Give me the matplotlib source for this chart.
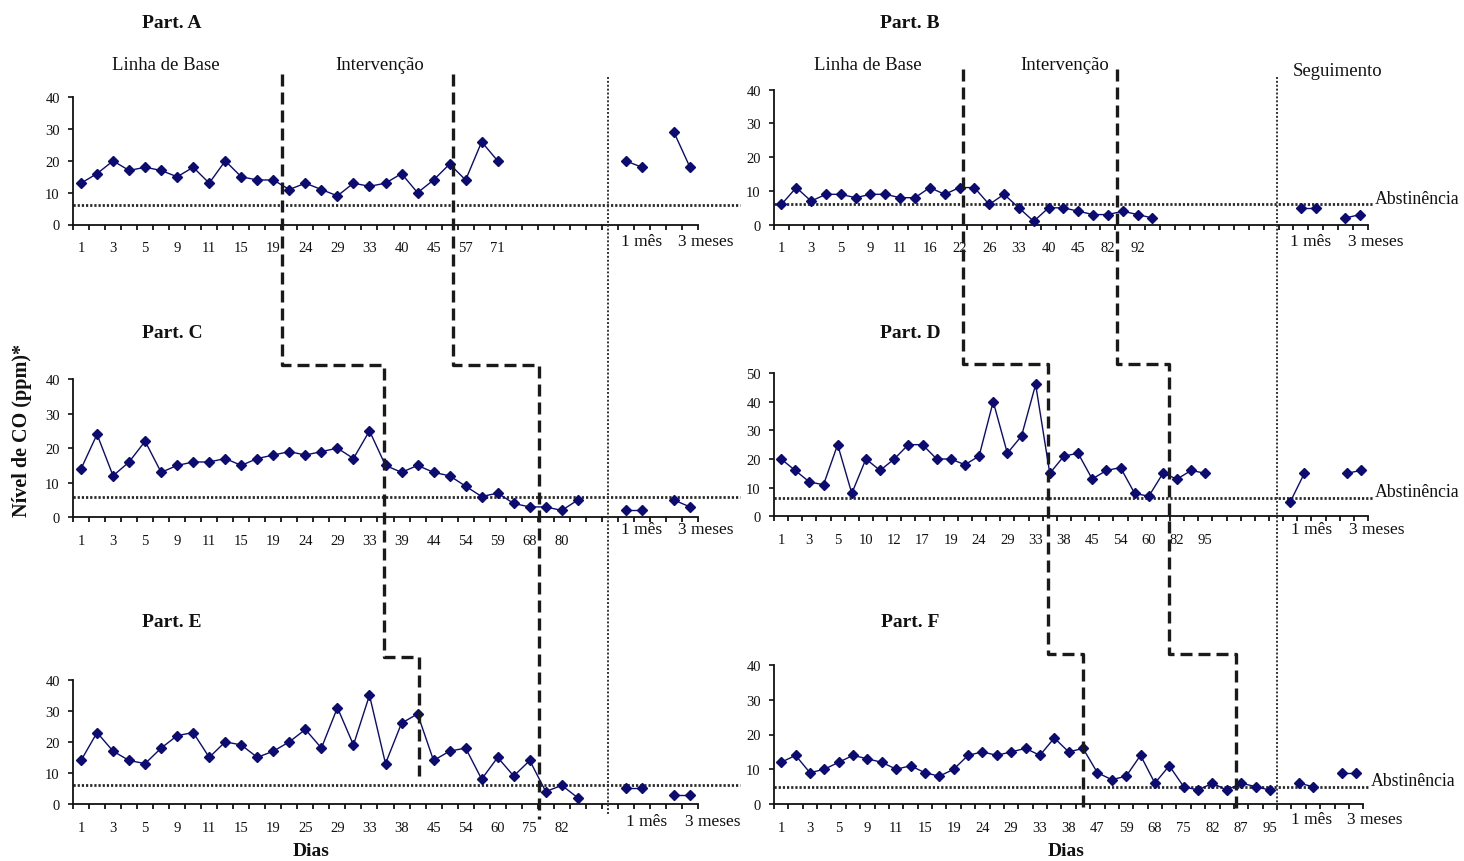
import matplotlib
matplotlib.use('Agg')
import matplotlib.pyplot as plt
from matplotlib.lines import Line2D
from matplotlib.transforms import blended_transform_factory
import numpy as np

plt.rcParams['font.family'] = ['Liberation Serif', 'DejaVu Serif']

# ---------------- data ----------------
days_A = ['1', '3', '5', '9', '11', '15', '19', '24', '29', '33', '40', '45', '57', '71']
co_A = [13, 16, 20, 17, 18, 17, 15, 18, 13, 20, 15, 14, 14, 11, 13, 11, 9, 13, 12, 13,
        16, 10, 14, 19, 14, 26, 20]
follow_A = [20, 18, 29, 18]

days_B = ['1', '3', '5', '9', '11', '16', '22', '26', '33', '40', '45', '82', '92']
co_B = [6, 11, 7, 9, 9, 8, 9, 9, 8, 8, 11, 9, 11, 11, 6, 9, 5, 1, 5, 5, 4, 3, 3, 4, 3, 2]
follow_B = [5, 5, 2, 3]

days_C = ['1', '3', '5', '9', '11', '15', '19', '24', '29', '33', '39', '44', '54', '59', '68', '80']
co_C = [14, 24, 12, 16, 22, 13, 15, 16, 16, 17, 15, 17, 18, 19, 18, 19, 20, 17, 25, 15,
        13, 15, 13, 12, 9, 6, 7, 4, 3, 3, 2, 5]
follow_C = [2, 2, 5, 3]

days_D = ['1', '3', '5', '10', '12', '17', '19', '24', '29', '33', '38', '45', '54', '60', '82', '95']
co_D = [20, 16, 12, 11, 25, 8, 20, 16, 20, 25, 25, 20, 20, 18, 21, 40, 22, 28, 46, 15,
        21, 22, 13, 16, 17, 8, 7, 15, 13, 16, 15]
follow_D = [5, 15, 15, 16]

days_E = ['1', '3', '5', '9', '11', '15', '19', '25', '29', '33', '38', '45', '54', '60', '75', '82']
co_E = [14, 23, 17, 14, 13, 18, 22, 23, 15, 20, 19, 15, 17, 20, 24, 18, 31, 19, 35, 13,
        26, 29, 14, 17, 18, 8, 15, 9, 14, 4, 6, 2]
follow_E = [5, 5, 3, 3]

days_F = ['1', '3', '5', '9', '11', '15', '19', '24', '29', '33', '38', '47', '59', '68', '75',
          '82', '87', '95']
co_F = [12, 14, 9, 10, 12, 14, 13, 12, 10, 11, 9, 8, 10, 14, 15, 14, 15, 16, 14, 19,
        15, 16, 9, 7, 8, 14, 6, 11, 5, 4, 6, 4, 6, 5, 4]
follow_F = [6, 5, 9, 9]

abstinence = {'A': 6, 'B': 6, 'C': 6, 'D': 6.5, 'E': 6, 'F': 5}
follow_labels = ['1 mês', '3 meses']

# ---------------- layout ----------------
W, H = 1464, 862
fig = plt.figure(figsize=(W / 100, H / 100), dpi=100)

NAVY = '#0b0b72'
layout = {
    # name: (n_categories, follow-up slots, pixel box l,t,r,b, ymax, phase x, label x, label dy)
    'A': (39, (34, 35, 37, 38), (73, 98.3, 698, 225.5), 40, (12.52, 23.19), (35.0, 39.0), 16),
    'B': (40, (35, 36, 38, 39), (774, 90.7, 1367.6, 225.7), 40, (12.24, 22.6), (35.67, 40.06), 16),
    'C': (39, (34, 35, 37, 38), (73, 380, 698, 518.3), 40, (18.9, 28.57), (35.0, 39.0), 12),
    'D': (42, (36, 37, 40, 41), (774, 374, 1368, 517.3), 50, (18.9, 27.4), (37.5, 42.1), 13),
    'E': (39, (34, 35, 37, 38), (73, 680.7, 698, 805), 40, (21.08, 28.57), (35.3, 39.4), 17.5),
    'F': (41, (36, 37, 39, 40), (774, 666, 1363.3, 805), 40, (20.97, 31.64), (36.9, 41.3), 15),
}
series = {
    'A': (days_A, co_A, follow_A), 'B': (days_B, co_B, follow_B),
    'C': (days_C, co_C, follow_C), 'D': (days_D, co_D, follow_D),
    'E': (days_E, co_E, follow_E), 'F': (days_F, co_F, follow_F),
}

MS = 5.3
axes = {}
for name, (n, slots, (l, t, r, b), ymax, phases, lab_x, lab_dy) in layout.items():
    days, co, follow = series[name]
    ax = fig.add_axes([l / W, 1 - b / H, (r - l) / W, (b - t) / H])
    axes[name] = ax
    ax.set_xlim(-0.5, n - 0.5)
    ax.set_ylim(0, ymax)
    for s in ['top', 'right']:
        ax.spines[s].set_visible(False)
    for s in ['left', 'bottom']:
        ax.spines[s].set_linewidth(1.3)
        ax.spines[s].set_color('#111111')
    ax.set_yticks(np.arange(0, ymax + 1, 10))
    ax.tick_params(axis='y', direction='out', length=3.5, width=1.2, pad=6,
                   labelsize=10.5, colors='#111111')
    ax.set_xticks(np.arange(-0.5, n, 1.0))
    ax.set_xticklabels([])
    ax.tick_params(axis='x', which='major', direction='out', length=3.5, width=1.2)
    ax.set_xticks(np.arange(0, 2 * len(days), 2), minor=True)
    ax.set_xticklabels(days, minor=True)
    ax.tick_params(axis='x', which='minor', length=0, pad=12, labelsize=10.5, colors='#111111')

    # abstinence threshold
    xmax = 1.067 if name in 'ACE' else 1.009
    ax.axhline(abstinence[name], xmin=0, xmax=xmax, clip_on=False, color='#2a2a2a',
               lw=2.0, ls=(0, (0.8, 0.7)), zorder=1)

    x = np.arange(len(co))
    ax.plot(x, co, color=NAVY, lw=1.0, marker='D', ms=MS, mfc=NAVY, mec=NAVY, zorder=3,
            clip_on=False)
    ax.plot(slots[:2], follow[:2], color=NAVY, lw=1.0, marker='D', ms=MS, zorder=3,
            clip_on=False)
    ax.plot(slots[2:], follow[2:], color=NAVY, lw=1.0, marker='D', ms=MS, zorder=3,
            clip_on=False)

    tr = ax.get_xaxis_transform()
    for lx, txt in zip(lab_x, follow_labels):
        ax.annotate(txt, xy=(lx, 0), xycoords=tr, xytext=(0, -lab_dy),
                    textcoords='offset pixels', ha='center', va='center', fontsize=12.5,
                    color='#111111', annotation_clip=False)
    if name in 'BDF':
        ax.annotate('Abstinência', xy=(1.012, abstinence[name]),
                    xycoords=blended_transform_factory(ax.transAxes, ax.transData),
                    xytext=(0, 6), textcoords='offset pixels', ha='left', va='center',
                    fontsize=12.8, color='#111111', annotation_clip=False)

inv = fig.transFigure.inverted()


def pt(name, xd, yfrac):
    ax = axes[name]
    dx = ax.transData.transform((xd, 0))[0]
    dy = ax.transAxes.transform((0, yfrac))[1]
    return inv.transform((dx, dy))


def draw_path(points, **kw):
    xs = [p[0] for p in points]
    ys = [p[1] for p in points]
    fig.add_artist(Line2D(xs, ys, transform=fig.transFigure, **kw))


dash_kw = dict(color='#1a1a1a', lw=2.4, ls=(0, (3.6, 1.8)), zorder=5)
dot_kw = dict(color='#333333', lw=1.4, ls=(0, (1, 1)), zorder=5)

# phase-change step lines, left column (A, C, E) and right column (B, D, F)
columns = [
    (('A', 'C', 'E'), 1.183, (1.101, 1.183), (0.225, -0.121), 32.86, (1.16, -0.08)),
    (('B', 'D', 'F'), 1.153, (1.063, 1.079), (-0.036, -0.05), 33.4, (1.094, -0.05)),
]
for (top, mid, bot), start, (s_mid, s_bot), ends, follow_x, (d0, d1) in columns:
    for k in range(2):
        xt = layout[top][4][k]
        xm = layout[mid][4][k]
        xb = layout[bot][4][k]
        p_mid_y = pt(mid, xm, s_mid)[1]
        p_bot_y = pt(bot, xb, s_bot)[1]
        xt_f = pt(top, xt, 0)[0]
        xm_f = pt(mid, xm, 0)[0]
        xb_f = pt(bot, xb, 0)[0]
        path = [(xt_f, pt(top, xt, start)[1]), (xt_f, p_mid_y), (xm_f, p_mid_y),
                (xm_f, p_bot_y), (xb_f, p_bot_y), (xb_f, pt(bot, xb, ends[k])[1])]
        draw_path(path, **dash_kw)
    # follow-up separator (dotted)
    fx = pt(top, follow_x, 0)[0]
    draw_path([(fx, pt(top, follow_x, d0)[1]), (fx, pt(bot, follow_x, d1)[1])], **dot_kw)


def ftext(xp, yp, s, **kw):
    fig.text(xp / W, 1 - yp / H, s, ha='center', va='center', color='#111111', **kw)


for name, (xp, yp) in {'A': (172, 23), 'B': (910, 23), 'C': (172, 333),
                       'D': (910, 333), 'E': (172, 623), 'F': (910, 623)}.items():
    ftext(xp, yp, 'Part. ' + name, fontsize=14, fontweight='bold')

ftext(166, 65, 'Linha de Base', fontsize=13.5)
ftext(380, 65, 'Intervenção', fontsize=13.5)
ftext(868, 65, 'Linha de Base', fontsize=13.5)
ftext(1065, 65, 'Intervenção', fontsize=13.5)
ftext(1338, 71, 'Seguimento', fontsize=13.5)
ftext(311, 852, 'Dias', fontsize=14, fontweight='bold')
ftext(1066, 852, 'Dias', fontsize=14, fontweight='bold')
ftext(22, 430, 'Nível de CO (ppm)*', fontsize=14.5, fontweight='bold', rotation=90)

fig.savefig('out.png', dpi=100, facecolor='white')
